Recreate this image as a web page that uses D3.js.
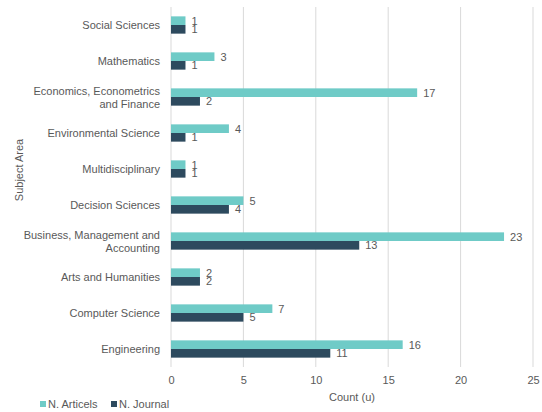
<!DOCTYPE html>
<html><head><meta charset="utf-8">
<script src="https://cdn.jsdelivr.net/npm/d3@7"></script>
<style>body{margin:0;background:#fff}text{font-family:"Liberation Sans",Arial,sans-serif}</style>
</head><body><svg id="c" width="542" height="412"></svg>
<script>
const categories = ["Social Sciences","Mathematics","Economics, Econometrics\nand Finance","Environmental Science","Multidisciplinary","Decision Sciences","Business, Management and\nAccounting","Arts and Humanities","Computer Science","Engineering"];
const articles = [1,3,17,4,1,5,23,2,7,16];
const journals = [1,1,2,1,1,4,13,2,5,11];
const seriesNames = ["N. Articels","N. Journal"];
const xTicks = [0,5,10,15,20,25];
const colors = ["#6FCBC7","#2D4A5E"];
const textColor = "#595959";

const svg = d3.select("#c");
const m = {left:171, right:9, top:7, bottom:45};
const W = 542, H = 412;
const x = d3.scaleLinear().domain([0,25]).range([m.left, W - m.right]);
const y = d3.scaleBand().domain(categories).range([m.top, H - m.bottom]).paddingInner(0.52).paddingOuter(0.26);
const sub = d3.scaleBand().domain([0,1]).range([0, y.bandwidth()]);

// grid
svg.append("g").selectAll("line").data(xTicks.slice(1)).join("line")
  .attr("x1", d=>x(d)).attr("x2", d=>x(d)).attr("y1", m.top).attr("y2", H-m.bottom)
  .attr("stroke","#d9d9d9").attr("stroke-width",1);
svg.append("line").attr("x1",x(0)).attr("x2",x(0)).attr("y1",m.top).attr("y2",H-m.bottom)
  .attr("stroke","#d9d9d9");

// x axis labels
const xa = svg.append("g").attr("transform",`translate(0,${H-m.bottom})`)
  .call(d3.axisBottom(x).tickValues(xTicks).tickSize(0).tickPadding(9));
xa.select(".domain").remove();
xa.selectAll("text").attr("fill",textColor).style("font-size","11px");

// y labels
const yl = svg.append("g");
categories.forEach(c=>{
  const lines = c.split("\n");
  const cy = y(c) + y.bandwidth()/2;
  const t = yl.append("text").attr("x",160).attr("text-anchor","end").attr("fill",textColor).style("font-size","11px");
  lines.forEach((l,i)=>{
    t.append("tspan").attr("x",160).attr("y", cy + 4 + (i - (lines.length-1)/2)*13).text(l);
  });
});

const series = [articles, journals];
series.forEach((vals,si)=>{
  const g = svg.append("g");
  g.selectAll("rect").data(vals).join("rect")
    .attr("x", x(0)).attr("y",(d,i)=>y(categories[i])+sub(si))
    .attr("width", d=>x(d)-x(0)).attr("height", sub.bandwidth())
    .attr("fill", colors[si]);
  g.selectAll("text").data(vals).join("text")
    .attr("x", d=>x(d)+6).attr("y",(d,i)=>y(categories[i])+sub(si)+sub.bandwidth()/2+4)
    .attr("fill",textColor).style("font-size","11px").text(d=>d);
});

// axis titles
svg.append("text").attr("x", (x(0)+x(25))/2).attr("y", 401).attr("text-anchor","middle")
  .attr("fill",textColor).style("font-size","11px").text("Count (u)");
svg.append("text").attr("transform",`translate(23,170) rotate(-90)`).attr("text-anchor","middle")
  .attr("fill",textColor).style("font-size","11px").text("Subject Area");

// legend
const lg = svg.append("g");
const lx = [40, 111];
seriesNames.forEach((n,i)=>{
  lg.append("rect").attr("x",lx[i]).attr("y",401).attr("width",6).attr("height",6).attr("fill",colors[i]);
  lg.append("text").attr("x",lx[i]+8).attr("y",408).attr("fill",textColor).style("font-size","11px").text(n);
});
</script></body></html>
